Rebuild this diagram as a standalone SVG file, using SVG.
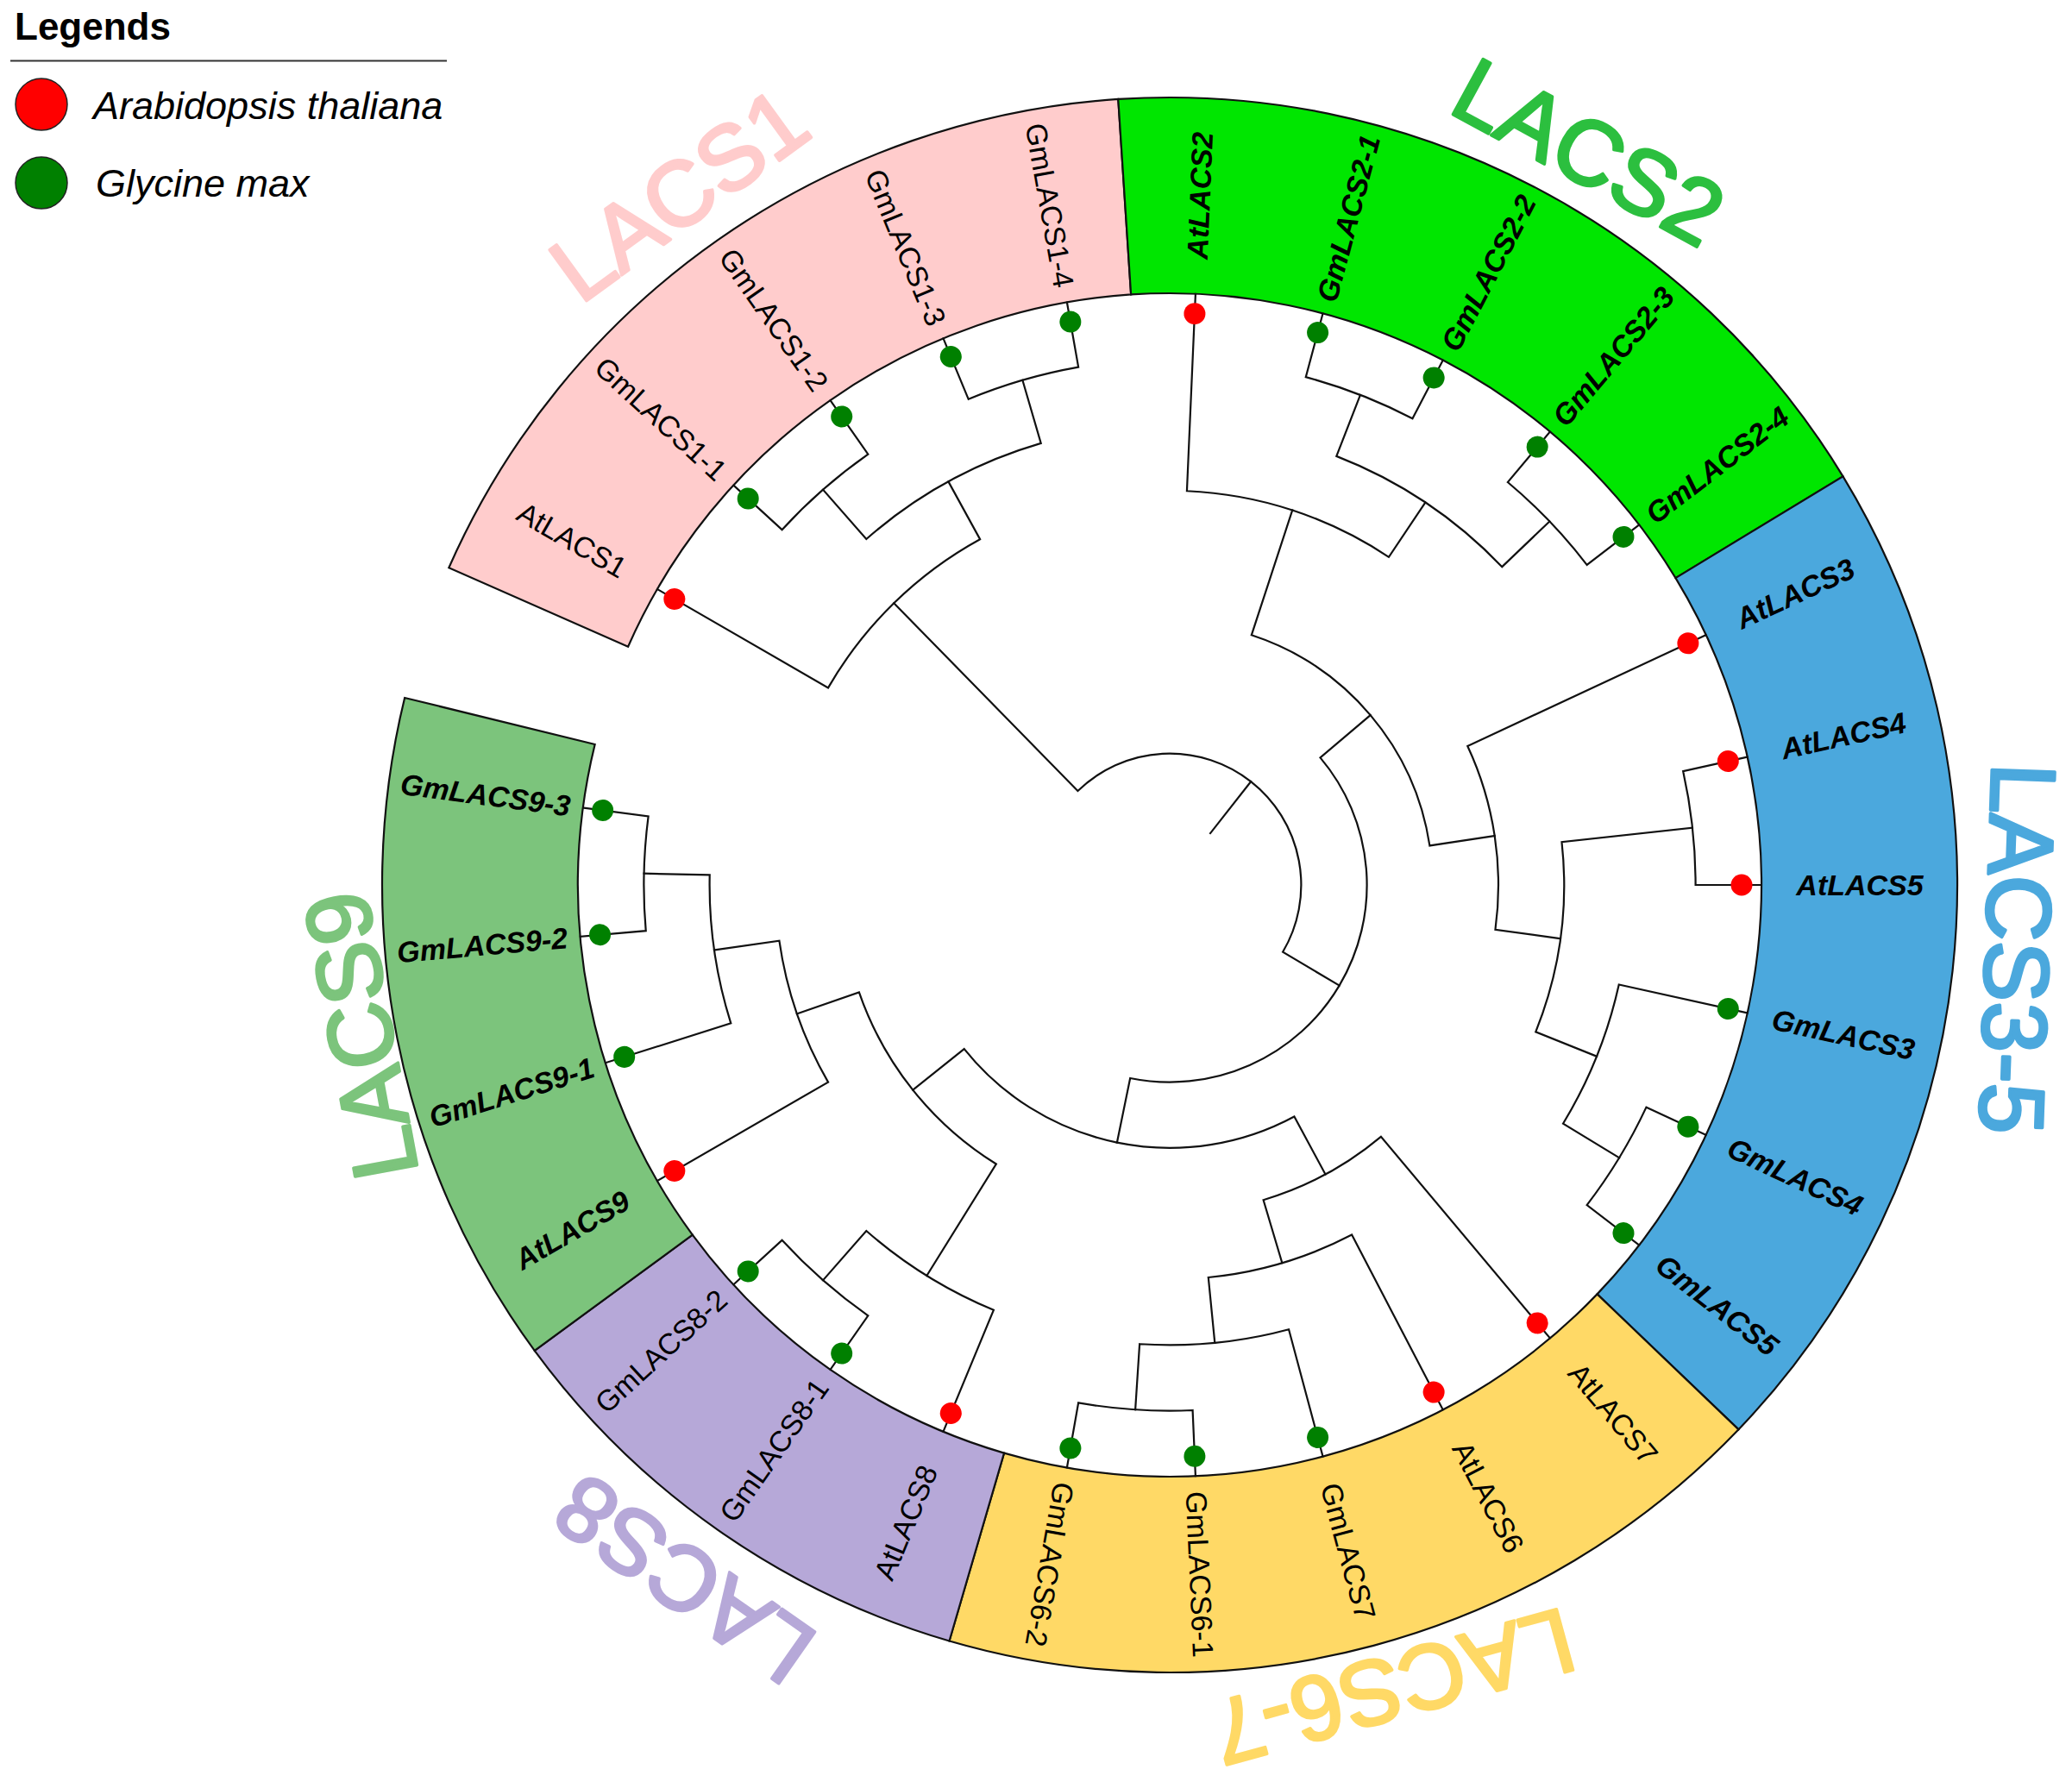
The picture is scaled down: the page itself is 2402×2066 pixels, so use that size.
<svg xmlns="http://www.w3.org/2000/svg" width="2402" height="2066" viewBox="0 0 2402 2066">
<style>
.br{fill:none;stroke:#111;stroke-width:2.2;stroke-linejoin:miter;stroke-linecap:square}
.sec{stroke:#111;stroke-width:2.2}
.at{fill:#ff0000}
.gm{fill:#008000}
.lb{font-family:"Liberation Sans",Arial,sans-serif;font-size:34px;fill:#000;text-anchor:middle;dominant-baseline:central}
.it{font-style:italic;font-weight:bold}
.grp{font-family:"Liberation Sans",Arial,sans-serif;font-size:106px;font-weight:normal;stroke-width:3.5;stroke-linejoin:round;text-anchor:middle;dominant-baseline:central}
.leg{font-family:"Liberation Sans",Arial,sans-serif;fill:#000}
</style>
<defs>
<path id="s625" d="M686 0H913A913 913 0 0 1 421.58 809.84L316.76 608.49A686 686 0 0 0 686 0Z"/>
<path id="s75" d="M686 0H913A913 913 0 0 1 236.3 881.89L177.55 662.63A686 686 0 0 0 686 0Z"/>
<path id="s375" d="M686 0H913A913 913 0 0 1 724.33 555.8L544.24 417.61A686 686 0 0 0 686 0Z"/>
<path id="s50" d="M686 0H913A913 913 0 0 1 586.87 699.4L440.95 525.51A686 686 0 0 0 686 0Z"/>
<path id="pair" d="M685.8 0H609.6A609.6 609.6 0 0 1 595.15 131.94L669.54 148.44"/>
<path id="sub25" d="M609.6 0H533.4A533.4 533.4 0 0 1 483.43 225.42L552.49 257.63"/>
<path id="clade31" d="M685.8 0H457.2A457.2 457.2 0 0 1 390.87 237.18L456.01 276.71"/>
<path id="trip" d="M685.8 0H533.4A533.4 533.4 0 0 1 505.09 171.46L577.25 195.95"/>
<path id="quad" d="M685.8 0H457.2A457.2 457.2 0 0 1 424.28 170.34L495 198.74"/>
</defs>
<rect width="2402" height="2066" fill="#fff"/>

<g id="legend">
<text class="leg" x="17" y="46" font-size="44" font-weight="bold">Legends</text>
<line x1="12" y1="70.5" x2="518" y2="70.5" stroke="#333" stroke-width="2"/>
<circle cx="48" cy="121" r="30" fill="#ff0000" stroke="#222" stroke-width="1.5"/>
<text class="leg" x="108" y="138" font-size="45" font-style="italic">Arabidopsis thaliana</text>
<circle cx="48" cy="212" r="30" fill="#008000" stroke="#222" stroke-width="1.5"/>
<text class="leg" x="111" y="228" font-size="45" font-style="italic">Glycine max</text>
</g>

<g id="clade-LACS1">
<use href="#s625" class="sec" fill="#ffcccc" transform="translate(1356 1026) rotate(203.75)"/>
<text class="grp" fill="#ffcccc" stroke="#ffcccc" transform="translate(787 225) rotate(-36)">LACS1</text>
</g>
<g id="clade-LACS2">
<use href="#s625" class="sec" fill="#00e600" transform="translate(1356 1026) rotate(266.25)"/>
<text class="grp" fill="#2cbf3f" stroke="#2cbf3f" transform="translate(1842 176) rotate(28.5)">LACS2</text>
</g>
<g id="clade-LACS3-5">
<use href="#s75" class="sec" fill="#4ba8dd" transform="translate(1356 1026) rotate(328.75)"/>
<text class="grp" fill="#4ba8dd" stroke="#4ba8dd" transform="translate(2339 1100) rotate(92)">LACS3-5</text>
</g>
<g id="clade-LACS6-7">
<use href="#s625" class="sec" fill="#ffd966" transform="translate(1356 1026) rotate(43.75)"/>
<text class="grp" fill="#ffd966" stroke="#ffd966" transform="translate(1615 1956) rotate(164.7)">LACS6-7</text>
</g>
<g id="clade-LACS8">
<use href="#s375" class="sec" fill="#b6a8d8" transform="translate(1356 1026) rotate(106.25)"/>
<text class="grp" fill="#b6a8d8" stroke="#b6a8d8" transform="translate(793 1831) rotate(215)">LACS8</text>
</g>
<g id="clade-LACS9">
<use href="#s50" class="sec" fill="#7cc47c" transform="translate(1356 1026) rotate(143.75)"/>
<text class="grp" fill="#7cc47c" stroke="#7cc47c" transform="translate(418 1201) rotate(-100.5)">LACS9</text>
</g>

<g id="connectors" class="br" transform="translate(1356 1026)">
<path d="M76.2 0H152.4" transform="rotate(308.1445)"/>
<path d="M457.2 0H152.4A152.4 152.4 0 0 1 -147.23 39.34L-220.85 59.02" transform="rotate(225.625)"/>
<path d="M304.8 0H228.6A228.6 228.6 0 0 1 -179.64 141.38L-239.52 188.5" transform="rotate(319.7656)"/>
<path d="M457.2 0H304.8A304.8 304.8 0 0 1 137.04 272.26L171.3 340.32" transform="rotate(288.125)"/>
<path d="M685.8 0H381A381 381 0 0 1 320.21 206.46L384.25 247.75" transform="rotate(335)"/>
<path d="M609.6 0H457.2A457.2 457.2 0 0 1 403.21 215.52L470.42 251.44" transform="rotate(353.75)"/>
<path d="M381 0H304.8A304.8 304.8 0 0 1 54.56 299.88L68.21 374.85" transform="rotate(61.71875)"/>
<path d="M685.8 0H381A381 381 0 0 1 349.57 151.54L419.48 181.85" transform="rotate(50)"/>
<path d="M533.4 0H381A381 381 0 0 1 295.83 240.09L355 288.11" transform="rotate(121.875)"/>
<use href="#clade31" transform="rotate(210)"/>
<use href="#clade31" transform="rotate(272.5)"/>
<use href="#sub25" transform="rotate(228.75)"/>
<use href="#sub25" transform="rotate(291.25)"/>
<use href="#trip" transform="rotate(12.5)"/>
<use href="#trip" transform="rotate(75)"/>
<use href="#trip" transform="rotate(112.5)"/>
<use href="#trip" transform="rotate(162.5)"/>
<use href="#quad" transform="rotate(62.5)"/>
<use href="#quad" transform="rotate(150)"/>
<use href="#pair" transform="rotate(222.5)"/>
<use href="#pair" transform="rotate(247.5)"/>
<use href="#pair" transform="rotate(285)"/>
<use href="#pair" transform="rotate(310)"/>
<use href="#pair" transform="rotate(347.5)"/>
<use href="#pair" transform="rotate(25)"/>
<use href="#pair" transform="rotate(87.5)"/>
<use href="#pair" transform="rotate(125)"/>
<use href="#pair" transform="rotate(175)"/>
</g>

<g id="leaves">
<g id="AtLACS1" transform="translate(1356 1026) rotate(210)"><circle class="at" cx="663" cy="0" r="12.5"/><text class="lb" transform="translate(800 0) rotate(180)">AtLACS1</text></g>
<g id="GmLACS1-1" transform="translate(1356 1026) rotate(222.5)"><circle class="gm" cx="663" cy="0" r="12.5"/><text class="lb" transform="translate(800 0) rotate(180)">GmLACS1-1</text></g>
<g id="GmLACS1-2" transform="translate(1356 1026) rotate(235)"><circle class="gm" cx="663" cy="0" r="12.5"/><text class="lb" transform="translate(800 0) rotate(180)">GmLACS1-2</text></g>
<g id="GmLACS1-3" transform="translate(1356 1026) rotate(247.5)"><circle class="gm" cx="663" cy="0" r="12.5"/><text class="lb" transform="translate(800 0) rotate(180)">GmLACS1-3</text></g>
<g id="GmLACS1-4" transform="translate(1356 1026) rotate(260)"><circle class="gm" cx="663" cy="0" r="12.5"/><text class="lb" transform="translate(800 0) rotate(180)">GmLACS1-4</text></g>
<g id="AtLACS2" transform="translate(1356 1026) rotate(272.5)"><circle class="at" cx="663" cy="0" r="12.5"/><text class="lb it" transform="translate(800 0)">AtLACS2</text></g>
<g id="GmLACS2-1" transform="translate(1356 1026) rotate(285)"><circle class="gm" cx="663" cy="0" r="12.5"/><text class="lb it" transform="translate(800 0)">GmLACS2-1</text></g>
<g id="GmLACS2-2" transform="translate(1356 1026) rotate(297.5)"><circle class="gm" cx="663" cy="0" r="12.5"/><text class="lb it" transform="translate(800 0)">GmLACS2-2</text></g>
<g id="GmLACS2-3" transform="translate(1356 1026) rotate(310)"><circle class="gm" cx="663" cy="0" r="12.5"/><text class="lb it" transform="translate(800 0)">GmLACS2-3</text></g>
<g id="GmLACS2-4" transform="translate(1356 1026) rotate(322.5)"><circle class="gm" cx="663" cy="0" r="12.5"/><text class="lb it" transform="translate(800 0)">GmLACS2-4</text></g>
<g id="AtLACS3" transform="translate(1356 1026) rotate(335)"><circle class="at" cx="663" cy="0" r="12.5"/><text class="lb it" transform="translate(800 0)">AtLACS3</text></g>
<g id="AtLACS4" transform="translate(1356 1026) rotate(347.5)"><circle class="at" cx="663" cy="0" r="12.5"/><text class="lb it" transform="translate(800 0)">AtLACS4</text></g>
<g id="AtLACS5" transform="translate(1356 1026) rotate(0)"><circle class="at" cx="663" cy="0" r="12.5"/><text class="lb it" transform="translate(800 0)">AtLACS5</text></g>
<g id="GmLACS3" transform="translate(1356 1026) rotate(12.5)"><circle class="gm" cx="663" cy="0" r="12.5"/><text class="lb it" transform="translate(800 0)">GmLACS3</text></g>
<g id="GmLACS4" transform="translate(1356 1026) rotate(25)"><circle class="gm" cx="663" cy="0" r="12.5"/><text class="lb it" transform="translate(800 0)">GmLACS4</text></g>
<g id="GmLACS5" transform="translate(1356 1026) rotate(37.5)"><circle class="gm" cx="663" cy="0" r="12.5"/><text class="lb it" transform="translate(800 0)">GmLACS5</text></g>
<g id="AtLACS7" transform="translate(1356 1026) rotate(50)"><circle class="at" cx="663" cy="0" r="12.5"/><text class="lb" transform="translate(800 0)">AtLACS7</text></g>
<g id="AtLACS6" transform="translate(1356 1026) rotate(62.5)"><circle class="at" cx="663" cy="0" r="12.5"/><text class="lb" transform="translate(800 0)">AtLACS6</text></g>
<g id="GmLACS7" transform="translate(1356 1026) rotate(75)"><circle class="gm" cx="663" cy="0" r="12.5"/><text class="lb" transform="translate(800 0)">GmLACS7</text></g>
<g id="GmLACS6-1" transform="translate(1356 1026) rotate(87.5)"><circle class="gm" cx="663" cy="0" r="12.5"/><text class="lb" transform="translate(800 0)">GmLACS6-1</text></g>
<g id="GmLACS6-2" transform="translate(1356 1026) rotate(100)"><circle class="gm" cx="663" cy="0" r="12.5"/><text class="lb" transform="translate(800 0)">GmLACS6-2</text></g>
<g id="AtLACS8" transform="translate(1356 1026) rotate(112.5)"><circle class="at" cx="663" cy="0" r="12.5"/><text class="lb" transform="translate(800 0) rotate(180)">AtLACS8</text></g>
<g id="GmLACS8-1" transform="translate(1356 1026) rotate(125)"><circle class="gm" cx="663" cy="0" r="12.5"/><text class="lb" transform="translate(800 0) rotate(180)">GmLACS8-1</text></g>
<g id="GmLACS8-2" transform="translate(1356 1026) rotate(137.5)"><circle class="gm" cx="663" cy="0" r="12.5"/><text class="lb" transform="translate(800 0) rotate(180)">GmLACS8-2</text></g>
<g id="AtLACS9" transform="translate(1356 1026) rotate(150)"><circle class="at" cx="663" cy="0" r="12.5"/><text class="lb it" transform="translate(800 0) rotate(180)">AtLACS9</text></g>
<g id="GmLACS9-1" transform="translate(1356 1026) rotate(162.5)"><circle class="gm" cx="663" cy="0" r="12.5"/><text class="lb it" transform="translate(800 0) rotate(180)">GmLACS9-1</text></g>
<g id="GmLACS9-2" transform="translate(1356 1026) rotate(175)"><circle class="gm" cx="663" cy="0" r="12.5"/><text class="lb it" transform="translate(800 0) rotate(180)">GmLACS9-2</text></g>
<g id="GmLACS9-3" transform="translate(1356 1026) rotate(187.5)"><circle class="gm" cx="663" cy="0" r="12.5"/><text class="lb it" transform="translate(800 0) rotate(180)">GmLACS9-3</text></g>
</g>
</svg>
